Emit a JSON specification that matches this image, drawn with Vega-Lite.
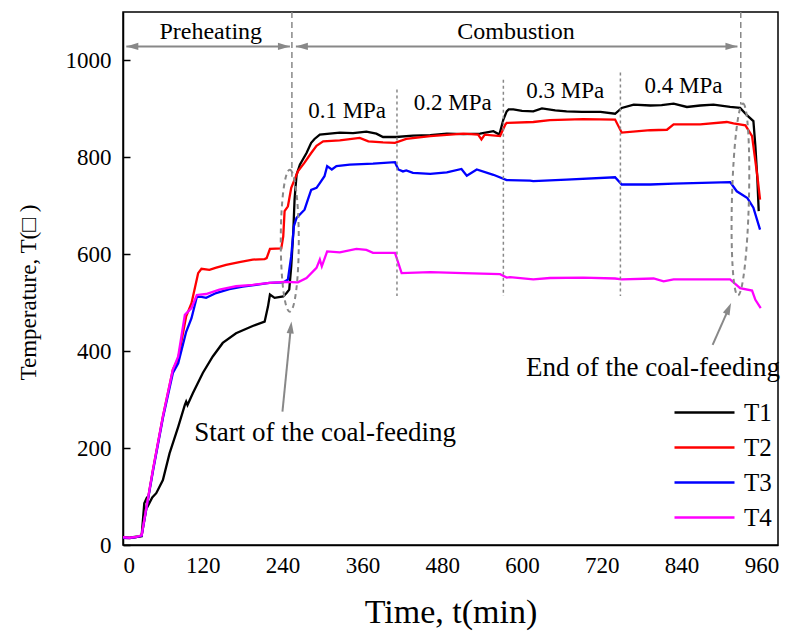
{
  "$schema": "https://vega.github.io/schema/vega-lite/v6.json",
  "width": 655,
  "height": 533,
  "autosize": "none",
  "padding": {"left": 123, "top": 12, "right": 9, "bottom": 90},
  "background": "white",
  "config": {
    "font": "'Liberation Serif', 'Times New Roman', serif",
    "view": {"stroke": "black", "strokeWidth": 1.5},
    "text": {"font": "'Liberation Serif', 'Times New Roman', serif"},
    "legend": {"labelFont": "'Liberation Serif', 'Times New Roman', serif"},
    "axis": {
      "grid": false,
      "domainColor": "black",
      "domainWidth": 1.5,
      "labelFont": "'Liberation Serif', 'Times New Roman', serif",
      "titleFont": "'Liberation Serif', 'Times New Roman', serif",
      "labelColor": "black",
      "titleColor": "black",
      "titleFontWeight": "normal",
      "labelFontSize": 23,
      "tickColor": "black",
      "tickWidth": 1.5
    }
  },
  "layer": [
    {
      "data": {
        "values": [
          {"s": "T1", "t": 0, "T": 16}, {"s": "T1", "t": 10, "T": 15}, {"s": "T1", "t": 20, "T": 17}, {"s": "T1", "t": 28, "T": 18},
          {"s": "T1", "t": 32, "T": 86}, {"s": "T1", "t": 35, "T": 95}, {"s": "T1", "t": 38, "T": 82}, {"s": "T1", "t": 44, "T": 98},
          {"s": "T1", "t": 50, "T": 107}, {"s": "T1", "t": 60, "T": 134}, {"s": "T1", "t": 70, "T": 189}, {"s": "T1", "t": 83, "T": 244},
          {"s": "T1", "t": 93, "T": 289}, {"s": "T1", "t": 95, "T": 296}, {"s": "T1", "t": 97, "T": 289}, {"s": "T1", "t": 105, "T": 313},
          {"s": "T1", "t": 120, "T": 355}, {"s": "T1", "t": 135, "T": 389}, {"s": "T1", "t": 150, "T": 417}, {"s": "T1", "t": 170, "T": 437},
          {"s": "T1", "t": 195, "T": 452}, {"s": "T1", "t": 213, "T": 461}, {"s": "T1", "t": 218, "T": 492}, {"s": "T1", "t": 221, "T": 517},
          {"s": "T1", "t": 228, "T": 510}, {"s": "T1", "t": 241, "T": 513}, {"s": "T1", "t": 246, "T": 520}, {"s": "T1", "t": 250, "T": 527},
          {"s": "T1", "t": 253, "T": 575}, {"s": "T1", "t": 256, "T": 644}, {"s": "T1", "t": 258, "T": 713}, {"s": "T1", "t": 261, "T": 764},
          {"s": "T1", "t": 266, "T": 785}, {"s": "T1", "t": 276, "T": 809}, {"s": "T1", "t": 283, "T": 830}, {"s": "T1", "t": 288, "T": 838},
          {"s": "T1", "t": 296, "T": 847}, {"s": "T1", "t": 326, "T": 851}, {"s": "T1", "t": 346, "T": 850}, {"s": "T1", "t": 366, "T": 853},
          {"s": "T1", "t": 381, "T": 849}, {"s": "T1", "t": 391, "T": 842}, {"s": "T1", "t": 411, "T": 842}, {"s": "T1", "t": 436, "T": 845},
          {"s": "T1", "t": 462, "T": 846}, {"s": "T1", "t": 487, "T": 849}, {"s": "T1", "t": 512, "T": 848}, {"s": "T1", "t": 537, "T": 849},
          {"s": "T1", "t": 557, "T": 854}, {"s": "T1", "t": 566, "T": 847}, {"s": "T1", "t": 572, "T": 878}, {"s": "T1", "t": 577, "T": 895},
          {"s": "T1", "t": 580, "T": 899}, {"s": "T1", "t": 587, "T": 899}, {"s": "T1", "t": 600, "T": 896}, {"s": "T1", "t": 617, "T": 895},
          {"s": "T1", "t": 630, "T": 901}, {"s": "T1", "t": 650, "T": 897}, {"s": "T1", "t": 667, "T": 895}, {"s": "T1", "t": 690, "T": 894},
          {"s": "T1", "t": 718, "T": 894}, {"s": "T1", "t": 740, "T": 890}, {"s": "T1", "t": 750, "T": 902}, {"s": "T1", "t": 768, "T": 909},
          {"s": "T1", "t": 793, "T": 907}, {"s": "T1", "t": 810, "T": 908}, {"s": "T1", "t": 828, "T": 911}, {"s": "T1", "t": 848, "T": 904},
          {"s": "T1", "t": 868, "T": 907}, {"s": "T1", "t": 888, "T": 909}, {"s": "T1", "t": 913, "T": 904}, {"s": "T1", "t": 928, "T": 902},
          {"s": "T1", "t": 939, "T": 886}, {"s": "T1", "t": 948, "T": 875}, {"s": "T1", "t": 951, "T": 823}, {"s": "T1", "t": 954, "T": 754},
          {"s": "T1", "t": 956, "T": 689},

          {"s": "T2", "t": 0, "T": 15}, {"s": "T2", "t": 10, "T": 14}, {"s": "T2", "t": 20, "T": 16}, {"s": "T2", "t": 28, "T": 19},
          {"s": "T2", "t": 45, "T": 155}, {"s": "T2", "t": 60, "T": 265}, {"s": "T2", "t": 75, "T": 362}, {"s": "T2", "t": 83, "T": 385},
          {"s": "T2", "t": 95, "T": 472}, {"s": "T2", "t": 103, "T": 499}, {"s": "T2", "t": 113, "T": 561}, {"s": "T2", "t": 118, "T": 570},
          {"s": "T2", "t": 130, "T": 568}, {"s": "T2", "t": 139, "T": 572}, {"s": "T2", "t": 155, "T": 578}, {"s": "T2", "t": 175, "T": 584},
          {"s": "T2", "t": 195, "T": 589}, {"s": "T2", "t": 213, "T": 590}, {"s": "T2", "t": 216, "T": 592}, {"s": "T2", "t": 221, "T": 611},
          {"s": "T2", "t": 238, "T": 612}, {"s": "T2", "t": 241, "T": 637}, {"s": "T2", "t": 243, "T": 689}, {"s": "T2", "t": 248, "T": 699},
          {"s": "T2", "t": 253, "T": 737}, {"s": "T2", "t": 258, "T": 754}, {"s": "T2", "t": 263, "T": 771}, {"s": "T2", "t": 273, "T": 789},
          {"s": "T2", "t": 283, "T": 809}, {"s": "T2", "t": 291, "T": 824}, {"s": "T2", "t": 301, "T": 833}, {"s": "T2", "t": 326, "T": 835},
          {"s": "T2", "t": 356, "T": 840}, {"s": "T2", "t": 369, "T": 833}, {"s": "T2", "t": 391, "T": 831}, {"s": "T2", "t": 409, "T": 830},
          {"s": "T2", "t": 426, "T": 838}, {"s": "T2", "t": 462, "T": 844}, {"s": "T2", "t": 512, "T": 849}, {"s": "T2", "t": 534, "T": 847},
          {"s": "T2", "t": 539, "T": 837}, {"s": "T2", "t": 544, "T": 847}, {"s": "T2", "t": 567, "T": 844}, {"s": "T2", "t": 575, "T": 868},
          {"s": "T2", "t": 577, "T": 871}, {"s": "T2", "t": 617, "T": 873}, {"s": "T2", "t": 642, "T": 877}, {"s": "T2", "t": 692, "T": 879},
          {"s": "T2", "t": 740, "T": 878}, {"s": "T2", "t": 750, "T": 851}, {"s": "T2", "t": 793, "T": 856}, {"s": "T2", "t": 818, "T": 857},
          {"s": "T2", "t": 828, "T": 868}, {"s": "T2", "t": 868, "T": 868}, {"s": "T2", "t": 908, "T": 873}, {"s": "T2", "t": 918, "T": 870},
          {"s": "T2", "t": 936, "T": 866}, {"s": "T2", "t": 946, "T": 844}, {"s": "T2", "t": 954, "T": 761}, {"s": "T2", "t": 958, "T": 713},

          {"s": "T3", "t": 0, "T": 15}, {"s": "T3", "t": 10, "T": 14}, {"s": "T3", "t": 20, "T": 16}, {"s": "T3", "t": 28, "T": 19},
          {"s": "T3", "t": 45, "T": 152}, {"s": "T3", "t": 60, "T": 262}, {"s": "T3", "t": 75, "T": 355}, {"s": "T3", "t": 83, "T": 375},
          {"s": "T3", "t": 95, "T": 440}, {"s": "T3", "t": 103, "T": 468}, {"s": "T3", "t": 111, "T": 512}, {"s": "T3", "t": 118, "T": 512},
          {"s": "T3", "t": 125, "T": 510}, {"s": "T3", "t": 140, "T": 520}, {"s": "T3", "t": 160, "T": 528}, {"s": "T3", "t": 180, "T": 533},
          {"s": "T3", "t": 200, "T": 537}, {"s": "T3", "t": 220, "T": 541}, {"s": "T3", "t": 241, "T": 542}, {"s": "T3", "t": 248, "T": 548},
          {"s": "T3", "t": 253, "T": 596}, {"s": "T3", "t": 257, "T": 658}, {"s": "T3", "t": 261, "T": 675}, {"s": "T3", "t": 273, "T": 692},
          {"s": "T3", "t": 278, "T": 713}, {"s": "T3", "t": 283, "T": 733}, {"s": "T3", "t": 291, "T": 737}, {"s": "T3", "t": 296, "T": 747},
          {"s": "T3", "t": 303, "T": 761}, {"s": "T3", "t": 307, "T": 782}, {"s": "T3", "t": 314, "T": 775}, {"s": "T3", "t": 321, "T": 782},
          {"s": "T3", "t": 341, "T": 785}, {"s": "T3", "t": 376, "T": 787}, {"s": "T3", "t": 409, "T": 790}, {"s": "T3", "t": 414, "T": 775},
          {"s": "T3", "t": 421, "T": 771}, {"s": "T3", "t": 426, "T": 773}, {"s": "T3", "t": 436, "T": 768}, {"s": "T3", "t": 462, "T": 766},
          {"s": "T3", "t": 487, "T": 769}, {"s": "T3", "t": 509, "T": 776}, {"s": "T3", "t": 517, "T": 762}, {"s": "T3", "t": 532, "T": 775},
          {"s": "T3", "t": 557, "T": 764}, {"s": "T3", "t": 577, "T": 753}, {"s": "T3", "t": 612, "T": 752}, {"s": "T3", "t": 617, "T": 751},
          {"s": "T3", "t": 667, "T": 754}, {"s": "T3", "t": 740, "T": 759}, {"s": "T3", "t": 750, "T": 744}, {"s": "T3", "t": 793, "T": 744},
          {"s": "T3", "t": 828, "T": 746}, {"s": "T3", "t": 913, "T": 749}, {"s": "T3", "t": 923, "T": 730}, {"s": "T3", "t": 939, "T": 716},
          {"s": "T3", "t": 948, "T": 696}, {"s": "T3", "t": 958, "T": 651},

          {"s": "T4", "t": 0, "T": 16}, {"s": "T4", "t": 10, "T": 15}, {"s": "T4", "t": 20, "T": 17}, {"s": "T4", "t": 28, "T": 20},
          {"s": "T4", "t": 45, "T": 155}, {"s": "T4", "t": 60, "T": 265}, {"s": "T4", "t": 75, "T": 362}, {"s": "T4", "t": 83, "T": 389},
          {"s": "T4", "t": 93, "T": 475}, {"s": "T4", "t": 103, "T": 489}, {"s": "T4", "t": 111, "T": 516}, {"s": "T4", "t": 125, "T": 518},
          {"s": "T4", "t": 145, "T": 527}, {"s": "T4", "t": 170, "T": 534}, {"s": "T4", "t": 195, "T": 537}, {"s": "T4", "t": 221, "T": 541},
          {"s": "T4", "t": 243, "T": 543}, {"s": "T4", "t": 263, "T": 542}, {"s": "T4", "t": 276, "T": 551}, {"s": "T4", "t": 291, "T": 572},
          {"s": "T4", "t": 296, "T": 589}, {"s": "T4", "t": 299, "T": 575}, {"s": "T4", "t": 307, "T": 606}, {"s": "T4", "t": 326, "T": 604},
          {"s": "T4", "t": 351, "T": 611}, {"s": "T4", "t": 366, "T": 609}, {"s": "T4", "t": 376, "T": 603}, {"s": "T4", "t": 409, "T": 603},
          {"s": "T4", "t": 419, "T": 561}, {"s": "T4", "t": 462, "T": 563}, {"s": "T4", "t": 512, "T": 561}, {"s": "T4", "t": 567, "T": 559},
          {"s": "T4", "t": 577, "T": 552}, {"s": "T4", "t": 582, "T": 553}, {"s": "T4", "t": 617, "T": 548}, {"s": "T4", "t": 642, "T": 551},
          {"s": "T4", "t": 692, "T": 552}, {"s": "T4", "t": 740, "T": 550}, {"s": "T4", "t": 750, "T": 548}, {"s": "T4", "t": 798, "T": 550},
          {"s": "T4", "t": 813, "T": 544}, {"s": "T4", "t": 828, "T": 548}, {"s": "T4", "t": 913, "T": 548}, {"s": "T4", "t": 928, "T": 530},
          {"s": "T4", "t": 946, "T": 525}, {"s": "T4", "t": 951, "T": 506}, {"s": "T4", "t": 959, "T": 489}
        ]
      },
      "mark": {"type": "line", "strokeWidth": 2.3},
      "encoding": {
        "x": {
          "field": "t",
          "type": "quantitative",
          "scale": {"domain": [0, 985], "nice": false, "zero": false},
          "axis": {
            "values": [0, 120, 240, 360, 480, 600, 720, 840, 960],
            "format": "d",
            "title": "Time, t(min)",
            "titleFontSize": 34,
            "titlePadding": 18,
            "ticks": false,
            "labelPadding": 9
          }
        },
        "y": {
          "field": "T",
          "type": "quantitative",
          "scale": {"domain": [0, 1100], "nice": false},
          "axis": {
            "values": [0, 200, 400, 600, 800, 1000],
            "format": "d",
            "title": "Temperature, T(□ )",
            "titleFontSize": 23,
            "titlePadding": 25,
            "titleY": 280,
            "tickSize": -7,
            "labelPadding": 19
          }
        },
        "color": {
          "field": "s",
          "type": "nominal",
          "scale": {"domain": ["T1", "T2", "T3", "T4"], "range": ["#000000", "#ff0000", "#0000ff", "#ff00ff"]},
          "legend": {
            "title": null,
            "orient": "none",
            "legendX": 569,
            "legendY": 388,
            "padding": 0,
            "symbolType": "M -3 0 L 3 0",
            "symbolSize": 400,
            "symbolStrokeWidth": 2.5,
            "labelFontSize": 25,
            "labelColor": "black",
            "labelOffset": 27,
            "rowPadding": 9
          }
        }
      }
    },
    {
      "data": {"values": [{"t": 254, "T": 1100, "T2": 760}, {"t": 929, "T": 1100, "T2": 909}]},
      "mark": {"type": "rule", "color": "#888888", "strokeWidth": 1.5, "strokeDash": [6, 4]},
      "encoding": {
        "x": {"field": "t", "type": "quantitative"},
        "y": {"field": "T", "type": "quantitative"},
        "y2": {"field": "T2"}
      }
    },
    {
      "data": {"values": [{"t": 412, "T": 940, "T2": 514}, {"t": 572, "T": 960, "T2": 514}, {"t": 748, "T": 975, "T2": 514}]},
      "mark": {"type": "rule", "color": "#888888", "strokeWidth": 1.5, "strokeDash": [3, 3]},
      "encoding": {
        "x": {"field": "t", "type": "quantitative"},
        "y": {"field": "T", "type": "quantitative"},
        "y2": {"field": "T2"}
      }
    },
    {
      "data": {"values": [{"t": 250.8, "T": 628}]},
      "mark": {
        "type": "point",
        "shape": "M 0 -1 C 0.0701 -1 0.127 -0.5523 0.127 0 C 0.127 0.5523 0.0701 1 0 1 C -0.0701 1 -0.127 0.5523 -0.127 0 C -0.127 -0.5523 -0.0701 -1 0 -1 Z",
        "size": 20164,
        "filled": false,
        "stroke": "#888888",
        "strokeWidth": 2,
        "strokeDash": [5, 4],
        "opacity": 1
      },
      "encoding": {"x": {"field": "t", "type": "quantitative"}, "y": {"field": "T", "type": "quantitative"}}
    },
    {
      "data": {"values": [{"t": 928.5, "T": 713}]},
      "mark": {
        "type": "point",
        "shape": "M 0 -1 C 0.0489 -1 0.0885 -0.5523 0.0885 0 C 0.0885 0.5523 0.0489 1 0 1 C -0.0489 1 -0.0885 0.5523 -0.0885 0 C -0.0885 -0.5523 -0.0489 -1 0 -1 Z",
        "size": 36864,
        "angle": 1.5,
        "filled": false,
        "stroke": "#888888",
        "strokeWidth": 2,
        "strokeDash": [5, 4],
        "opacity": 1
      },
      "encoding": {"x": {"field": "t", "type": "quantitative"}, "y": {"field": "T", "type": "quantitative"}}
    },
    {
      "data": {"values": [
        {"t": 5, "T": 1029, "t2": 251, "T2": 1029},
        {"t": 260, "T": 1029, "t2": 924, "T2": 1029},
        {"t": 239.8, "T": 275.4, "t2": 252.4, "T2": 449},
        {"t": 886.7, "T": 413.2, "t2": 910.8, "T2": 488}
      ]},
      "mark": {"type": "rule", "color": "#888888", "strokeWidth": 2},
      "encoding": {
        "x": {"field": "t", "type": "quantitative"},
        "y": {"field": "T", "type": "quantitative"},
        "x2": {"field": "t2"},
        "y2": {"field": "T2"}
      }
    },
    {
      "data": {"values": [{"t": 14, "T": 1029}, {"t": 269, "T": 1029}]},
      "mark": {"type": "point", "shape": "M -1 0 L 1 -0.6 L 1 0.6 Z", "size": 144, "filled": true, "color": "#888888", "opacity": 1},
      "encoding": {"x": {"field": "t", "type": "quantitative"}, "y": {"field": "T", "type": "quantitative"}}
    },
    {
      "data": {"values": [{"t": 242, "T": 1029}, {"t": 915, "T": 1029}]},
      "mark": {"type": "point", "shape": "M 1 0 L -1 -0.6 L -1 0.6 Z", "size": 144, "filled": true, "color": "#888888", "opacity": 1},
      "encoding": {"x": {"field": "t", "type": "quantitative"}, "y": {"field": "T", "type": "quantitative"}}
    },
    {
      "data": {"values": [{"t": 252.4, "T": 449}]},
      "mark": {"type": "point", "shape": "M 0 -1 L -0.6 1 L 0.6 1 Z", "size": 144, "angle": 6, "filled": true, "color": "#888888", "opacity": 1},
      "encoding": {"x": {"field": "t", "type": "quantitative"}, "y": {"field": "T", "type": "quantitative"}}
    },
    {
      "data": {"values": [{"t": 910.8, "T": 488}]},
      "mark": {"type": "point", "shape": "M 0 -1 L -0.6 1 L 0.6 1 Z", "size": 144, "angle": 24, "filled": true, "color": "#888888", "opacity": 1},
      "encoding": {"x": {"field": "t", "type": "quantitative"}, "y": {"field": "T", "type": "quantitative"}}
    },
    {
      "data": {"values": [{"t": 132, "T": 1058, "label": "Preheating"}, {"t": 591, "T": 1058, "label": "Combustion"}]},
      "mark": {"type": "text", "fontSize": 24, "color": "black", "align": "center", "baseline": "middle"},
      "encoding": {"x": {"field": "t", "type": "quantitative"}, "y": {"field": "T", "type": "quantitative"}, "text": {"field": "label"}}
    },
    {
      "data": {"values": [
        {"t": 337, "T": 895, "label": "0.1 MPa"},
        {"t": 496, "T": 913, "label": "0.2 MPa"},
        {"t": 665, "T": 936, "label": "0.3 MPa"},
        {"t": 843, "T": 948, "label": "0.4 MPa"}
      ]},
      "mark": {"type": "text", "fontSize": 23, "color": "black", "align": "center", "baseline": "middle"},
      "encoding": {"x": {"field": "t", "type": "quantitative"}, "y": {"field": "T", "type": "quantitative"}, "text": {"field": "label"}}
    },
    {
      "data": {"values": [
        {"t": 304, "T": 231, "label": "Start of the coal-feeding"},
        {"t": 797, "T": 366, "label": "End of the coal-feeding"}
      ]},
      "mark": {"type": "text", "fontSize": 27, "color": "black", "align": "center", "baseline": "middle"},
      "encoding": {"x": {"field": "t", "type": "quantitative"}, "y": {"field": "T", "type": "quantitative"}, "text": {"field": "label"}}
    }
  ]
}
